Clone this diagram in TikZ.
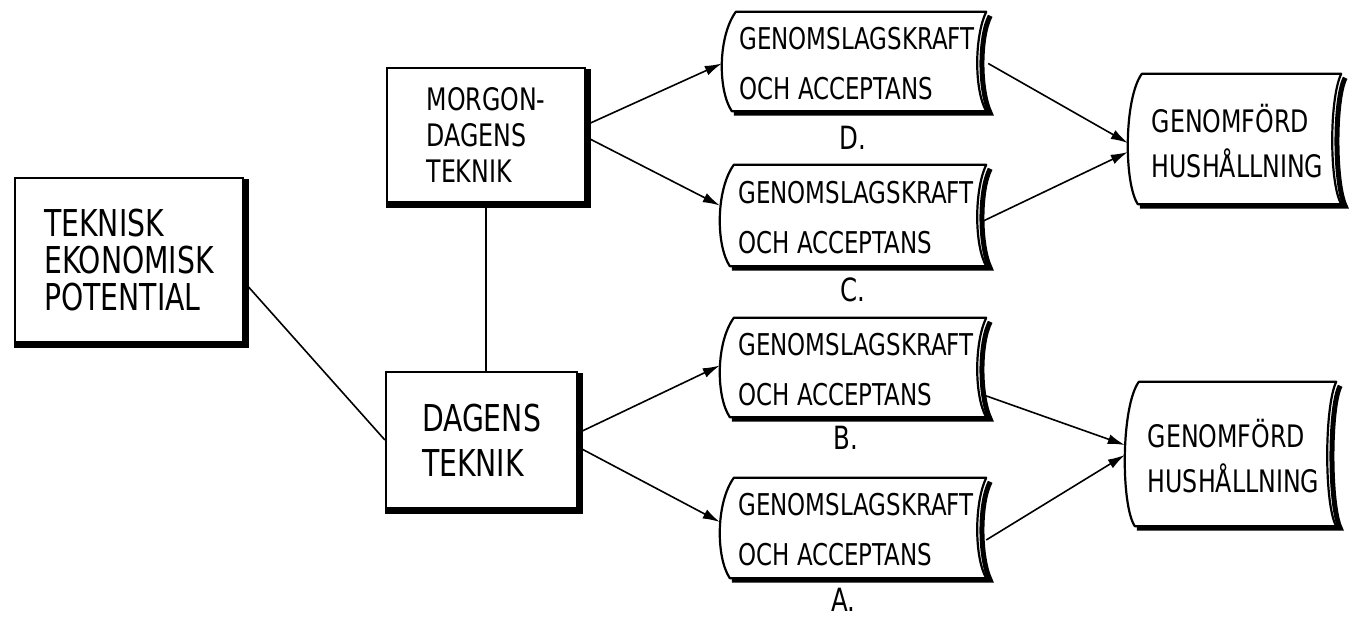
\documentclass[tikz,border=0pt]{standalone}
\usepackage{fontspec}
\newfontfamily\handfont[FakeStretch=0.85]{DejaVu Sans Condensed}
\usetikzlibrary{arrows.meta}
\usetikzlibrary{positioning}

\newcommand{\lettering}[2]{\handfont\fontsize{#1}{#2}\selectfont}

\tikzset{
  box/.style={draw, line width=2.2pt, inner sep=0pt, align=left},
  scroll/.style={inner sep=0pt, align=left},
  outline/.style={line width=2.2pt, line join=round},
  shadowline/.style={line width=6pt, line cap=butt, line join=miter},
  link/.style={line width=1.6pt},
  arrow/.style={line width=1.6pt, -{Latex[length=17pt,width=10pt]}},
}

\begin{document}
\begin{tikzpicture}[x=1pt, y=1pt]
    \useasboundingbox (0,0) rectangle (1356,618);

    % Plain boxes
    \node[box, minimum width=228pt, minimum height=164pt, font=\lettering{37}{37}] (pot) at (129,358) {TEKNISK\\EKONOMISK\\POTENTIAL};
    \node[box, minimum width=198pt, minimum height=134pt, font=\lettering{31}{36}] (morgon) at (486,483) {MORGON-\\DAGENS\\TEKNIK};
    \node[box, minimum width=191pt, minimum height=136pt, font=\lettering{37}{45}] (dagens) at (481.5,178) {DAGENS\\TEKNIK};

    % Thick edge on the right and below
    \foreach \n in {pot, morgon, dagens} {
        \draw[shadowline] ([xshift=1.5pt, yshift=-2pt]\n.north east) -- ([xshift=1.5pt, yshift=-1.5pt]\n.south east) -- ([yshift=-1.5pt]\n.south west);
    }

    % Scrolls
    \node[scroll, minimum width=270pt, minimum height=103pt, font=\lettering{30}{50}] (sd) at (857,554.5) {GENOMSLAGSKRAFT\\OCH ACCEPTANS};
    \node[scroll, minimum width=272pt, minimum height=105pt, font=\lettering{30}{50}] (sc) at (856,400.5) {GENOMSLAGSKRAFT\\OCH ACCEPTANS};
    \node[scroll, minimum width=272pt, minimum height=103pt, font=\lettering{30}{50}] (sb) at (856,248.5) {GENOMSLAGSKRAFT\\OCH ACCEPTANS};
    \node[scroll, minimum width=272pt, minimum height=104pt, font=\lettering{30}{50}] (sa) at (856,88) {GENOMSLAGSKRAFT\\OCH ACCEPTANS};
    \node[scroll, minimum width=219pt, minimum height=134pt, font=\lettering{31}{45}] (hd) at (1237.5,477) {GENOMFÖRD\\HUSHÅLLNING};
    \node[scroll, minimum width=217pt, minimum height=148pt, font=\lettering{31}{45}] (hb) at (1233.5,162) {GENOMFÖRD\\HUSHÅLLNING};

    \foreach \n in {sd, sc, sb, sa, hd, hb} {
        \draw[outline] ([xshift=14pt]\n.north west) -- ([xshift=-6pt]\n.north east)
            .. controls ([xshift=-18pt, yshift=-25pt]\n.north east) and ([xshift=-18pt, yshift=25pt]\n.south east) .. ([xshift=-6pt, yshift=4pt]\n.south east)
            -- ([xshift=10pt, yshift=4pt]\n.south west)
            .. controls ([xshift=-4pt, yshift=25pt]\n.south west) and ([xshift=-4pt, yshift=-25pt]\n.north west) .. ([xshift=14pt]\n.north west) -- cycle;
        \draw[shadowline, line width=5pt] ([xshift=-2pt, yshift=-4pt]\n.north east)
            .. controls ([xshift=-13pt, yshift=-25pt]\n.north east) and ([xshift=-13pt, yshift=25pt]\n.south east) .. ([xshift=-2pt, yshift=2pt]\n.south east)
            -- ([xshift=12pt, yshift=2pt]\n.south west);
    }

    % Letters under the scrolls
    \node[font=\lettering{32}{34}] (ld) at (853,480) {D.};
    \node[font=\lettering{32}{34}] (lc) at (853,328) {C.};
    \node[font=\lettering{32}{34}] (lb) at (846,180) {B.};
    \node[font=\lettering{32}{34}] (la) at (843,18) {A.};

    % Connectors
    \draw[link] ([yshift=-22pt]pot.east) -- (dagens.west);
    \draw[link] (morgon.south) -- (morgon.south |- dagens.north);

    \draw[arrow] ([yshift=10pt]morgon.east) -- (sd.west);
    \draw[arrow] ([yshift=-2pt]morgon.east) -- ([yshift=12pt]sc.west);
    \draw[arrow] ([yshift=7pt]dagens.east) -- ([yshift=4pt]sb.west);
    \draw[arrow] ([yshift=-7pt]dagens.east) -- ([yshift=8pt]sa.west);

    \draw[arrow] ([xshift=-4pt]sd.east) -- ([yshift=-2pt]hd.west);
    \draw[arrow] ([xshift=-10pt, yshift=-4pt]sc.east) -- ([yshift=-11pt]hd.west);
    \draw[arrow] ([xshift=-10pt, yshift=-25pt]sb.east) -- ([yshift=11pt]hb.west);
    \draw[arrow] ([xshift=-6pt, yshift=-10pt]sa.east) -- ([yshift=1pt]hb.west);
\end{tikzpicture}
\end{document}
